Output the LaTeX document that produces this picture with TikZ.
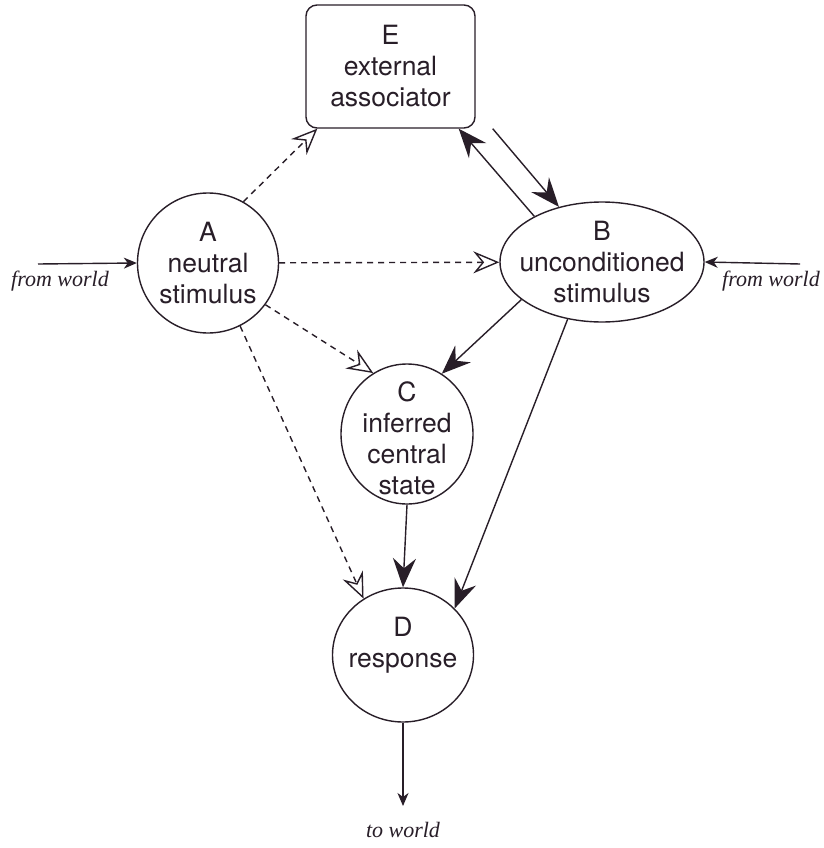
\documentclass[tikz,border=0pt]{standalone}
\usepackage{fontspec}
\setmainfont{TeX Gyre Heros}
\newfontfamily\labelfont{Liberation Serif}
\usetikzlibrary{arrows.meta,shapes.geometric}
\definecolor{ink}{RGB}{40,30,40}
\begin{document}
\begin{tikzpicture}[x=1pt,y=-1pt,
  line width=1.4pt, draw=ink, text=ink,
  every node/.style={align=center, inner sep=0pt},
  caption/.style={font=\fontsize{26.5}{31}\selectfont},
  oval/.style={ellipse, draw=ink, line width=1.4pt},
  boxnode/.style={rectangle, rounded corners=11pt, draw=ink, line width=1.4pt},
  worldlabel/.style={font=\labelfont\itshape\fontsize{22}{26}\selectfont},
  bighead/.style={ink, -{Stealth[length=29pt,width=23pt,inset=10pt]}},
  openhead/.style={ink, dash pattern=on 6pt off 5pt,
    -{Stealth[open,length=26pt,width=22pt,inset=9pt,fill=white]}},
  smallhead/.style={ink, -{Stealth[length=13pt,width=11pt,inset=4pt]}}]
\useasboundingbox[fill=white] (0,0) rectangle (823,848);

% outlines
\node[boxnode, minimum width=169pt, minimum height=123pt] (E) at (390.5,66.5) {};
\node[oval, minimum width=141pt, minimum height=140pt] (A) at (208,263) {};
\node[oval, minimum width=204pt, minimum height=120pt] (B) at (602,262) {};
\node[oval, minimum width=132pt, minimum height=140pt] (C) at (407,434) {};
\node[oval, minimum width=141pt, minimum height=134pt] (D) at (403,655) {};

% captions inside the outlines (canvas y points up, so yshift is inverted)
\node[caption] (Et) at (E) {E\\external\\associator};
\node[caption] (At) at (A) {A\\neutral\\stimulus};
\node[caption] (Bt) at (B) {B\\unconditioned\\stimulus};
\node[caption] (Ct) at ([yshift=-4pt]C) {C\\inferred\\central\\state};
\node[caption] (Dt) at ([yshift=10pt]D) {D\\response};

% labels for the outside world
\node[worldlabel] (fwl) at (60,281) {from world};
\node[worldlabel] (fwr) at (771,281) {from world};
\node[worldlabel] (tw) at (403,830) {to world};
\coordinate (inL) at (38,264);
\coordinate (inR) at (800,264);
\coordinate (out) at (403,806);

% inputs and output
\draw[smallhead] (inL) -- (A.west);
\draw[smallhead] (inR) -- (B.east);
\draw[smallhead] (D.south) -- (out);

% conditioned (dashed) links
\draw[openhead] (A.60) -- ([xshift=12pt]E.south west);
\draw[openhead] (A) -- (B);
\draw[openhead] (A.-36) -- (C.119);
\draw[openhead] (A.-63) -- (D.125);

% unconditioned links
\draw[bighead] (B.146) -- ([xshift=-17pt]E.south east);
\draw[bighead] ([xshift=17pt]E.south east) -- (B.128);
\draw[bighead] (B.205) -- (C.60);
\draw[bighead] (B.239) -- (D.42);
\draw[bighead] (C.south) -- (D.north);
\end{tikzpicture}
\end{document}
